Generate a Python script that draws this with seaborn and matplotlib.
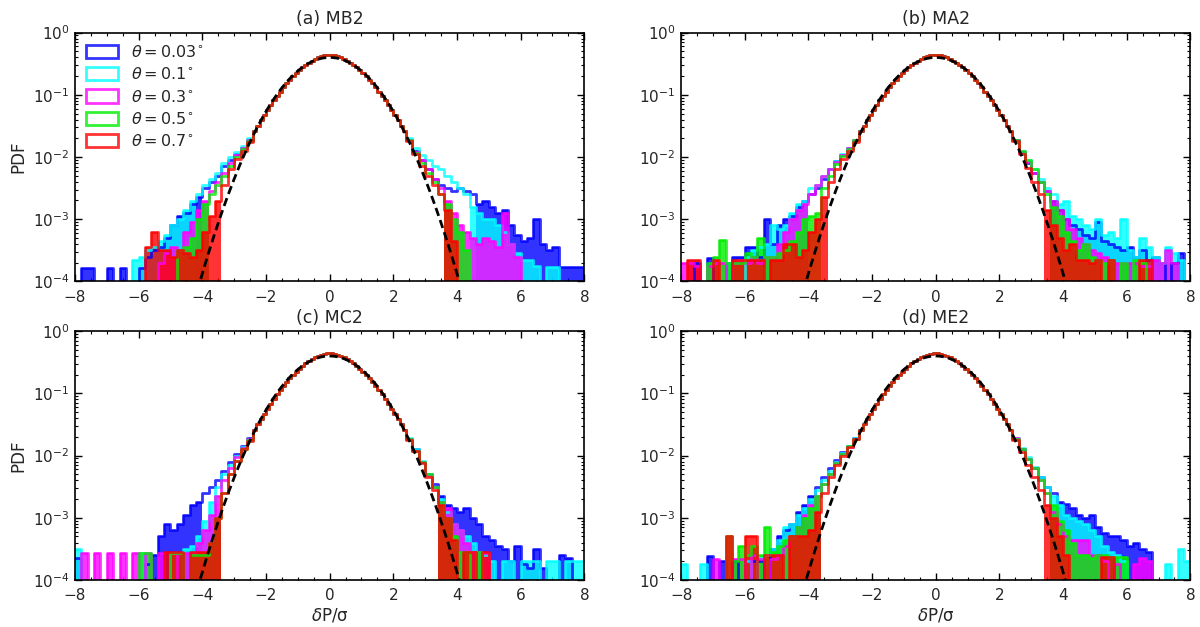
import numpy as np
import pandas as pd
import matplotlib
matplotlib.use('Agg')
import matplotlib.pyplot as plt
import seaborn as sns
from matplotlib.patches import Patch
from matplotlib.ticker import MultipleLocator, LogLocator, NullFormatter

N = None

# tails: bins of width 0.2, stored as log10(PDF), None = empty bin
# left tail: centres -7.9 ... -2.5 ; right tail: centres 2.5 ... 7.9
# shared core: bins of width 0.1, centres -2.35 ... 2.35 (PDF values)
core = [0.026, 0.032, 0.039, 0.047, 0.057, 0.068, 0.081, 0.096, 0.113, 0.132, 0.152, 0.175,
        0.199, 0.224, 0.25, 0.278, 0.305, 0.33, 0.355, 0.38, 0.40, 0.42, 0.435, 0.44,
        0.44, 0.435, 0.42, 0.40, 0.38, 0.355, 0.33, 0.305, 0.278, 0.25, 0.224, 0.199,
        0.175, 0.152, 0.132, 0.113, 0.096, 0.081, 0.068, 0.057, 0.047, 0.039, 0.032, 0.026]

thetas = ['0.03', '0.1', '0.3', '0.5', '0.7']
colores = ['#0000ff', '#00ffff', '#ff00ff', '#00ee00', '#ff0000']
titulos = ['(a) MB2', '(b) MA2', '(c) MC2', '(d) ME2']

# (a) MB2
a_L_blue = [N, -3.78, -3.78, N, N, -3.78, N, -3.78, N, N, -3.78, -3.6, -3.5, -3.45, -3.3, -3.1, -2.95, -2.9, -2.75, -2.65, -2.5, -2.4, -2.3, -2.15, -2.05, -1.95, -1.85, -1.72]
a_L_cyan = [N, N, N, N, N, N, N, N, N, -3.65, -3.6, -3.5, -3.45, -3.35, -3.25, -3.1, -3.0, -2.85, -2.7, -2.6, -2.45, -2.35, -2.25, -2.1, -2.0, -1.92, -1.82, -1.7]
a_L_mag = [N, N, N, N, N, N, N, N, N, N, N, N, N, -3.7, -3.55, -3.45, -3.5, -3.2, -3.05, -2.85, -2.7, -2.55, -2.4, -2.25, -2.1, -1.97, -1.85, -1.73]
a_L_green = [N, N, N, N, N, N, N, N, N, N, N, N, N, N, N, N, -3.5, -3.45, -3.3, -3.0, -2.75, -2.6, -2.45, -2.3, -2.15, -2.0, -1.87, -1.74]
a_L_red = [N, N, N, N, N, N, N, N, N, N, N, -3.45, -3.2, -3.5, -3.5, -3.6, -3.5, -3.55, -3.6, -3.5, -3.2, -2.95, -2.7, -2.45, -2.2, -2.03, -1.9, -1.76]
a_R_blue = [-1.73, -1.9, -2.05, -2.2, -2.35, -2.45, -2.5, -2.55, -2.5, -2.55, -2.6, -2.75, -2.7, -2.8, -2.9, -2.85, -3.1, -3.25, -3.35, -3.3, -3.0, -3.4, -3.5, -3.45, -3.77, -3.77, -3.77, -3.77]
a_R_cyan = [-1.7, -1.86, -1.97, -2.05, -2.15, -2.2, -2.3, -2.4, -2.5, -2.6, -2.8, -2.9, -3.0, -3.0, -3.1, -3.2, -3.4, -3.55, -3.65, -3.65, -3.75, N, -3.77, -3.77, N, N, N, N]
a_R_mag = [-1.72, -1.92, -2.05, -2.2, -2.35, -2.5, -2.7, -2.9, -3.1, -3.2, -3.3, -3.4, -3.3, -3.35, -3.45, -2.9, -3.4, -3.6, N, N, N, N, N, N, N, N, N, N]
a_R_green = [-1.73, -1.93, -2.1, -2.25, -2.4, -2.6, -2.75, -3.0, -3.2, -3.5, N, N, N, N, N, N, N, N, N, N, N, N, N, N, N, N, N, N]
a_R_red = [-1.75, -1.95, -2.15, -2.3, -2.45, -2.6, -2.85, -3.35, N, N, N, N, N, N, N, N, N, N, N, N, N, N, N, N, N, N, N, N]

# (b) MA2
b_L_blue = [N, N, -3.7, N, -3.63, N, N, -3.7, -3.6, -3.6, -3.45, -3.45, -3.6, -3.0, -3.4, -3.1, -3.0, -2.95, -2.8, -2.7, -2.6, -2.5, -2.35, -2.2, -2.07, -1.96, -1.85, -1.72]
b_L_cyan = [N, N, N, N, N, N, N, -3.7, N, N, -3.6, -3.5, -3.45, -3.4, -3.1, -3.15, -3.1, -2.9, -2.75, -2.7, -2.5, -2.45, -2.3, -2.2, -2.07, -1.95, -1.85, -1.72]
b_L_mag = [-3.7, -3.7, -3.75, N, -3.75, -3.7, -3.7, N, -3.7, -3.65, -3.7, -3.6, -3.7, -3.6, -3.6, -3.4, -3.2, -3.0, -2.85, -2.75, -2.6, -2.45, -2.3, -2.2, -2.08, -1.96, -1.85, -1.72]
b_L_green = [N, N, N, N, -3.7, -3.6, -3.33, -3.7, -3.7, -3.7, -3.55, -3.6, -3.3, -3.6, -3.6, -3.55, -3.5, -3.35, -3.2, -3.0, -2.95, -2.9, -2.5, -2.3, -2.12, -1.99, -1.87, -1.73]
b_L_red = [N, -3.65, -3.65, N, N, -3.65, N, N, -3.65, -3.65, -3.65, -3.65, -3.65, N, -3.65, -3.65, -3.4, -3.4, -3.6, -3.5, -3.2, -3.0, -2.65, -2.4, -2.2, -2.03, -1.9, -1.76]
b_R_blue = [-1.73, -1.92, -2.1, -2.25, -2.4, -2.55, -2.7, -2.85, -3.0, -3.1, -3.15, -3.25, -3.3, -3.05, -3.35, -3.4, -3.45, -3.5, -3.45, -3.6, -3.5, -3.65, -3.6, -3.7, N, -3.7, -3.55, N]
b_R_cyan = [-1.72, -1.9, -2.05, -2.2, -2.35, -2.5, -2.6, -2.75, -2.7, -2.95, -3.0, -3.1, -3.15, -3.0, -3.25, -3.2, -3.3, -3.0, -3.5, -3.6, -3.3, -3.45, -3.6, -3.7, -3.45, -3.55, -3.65, N]
b_R_mag = [-1.73, -1.92, -2.08, -2.25, -2.4, -2.55, -2.7, -2.85, -3.0, -3.15, -3.3, -3.4, -3.5, -3.55, -3.6, -3.65, -3.7, -3.7, -3.7, -3.7, -3.75, -3.75, -3.65, -3.7, -3.5, -3.7, N, N]
b_R_green = [-1.72, -1.9, -2.05, -2.2, -2.4, -2.6, -2.8, -2.95, -3.2, -3.35, -3.5, -3.4, -3.6, -3.65, -3.7, -3.65, N, -3.7, N, -3.65, -3.7, N, N, N, N, N, N, N]
b_R_red = [-1.75, -1.95, -2.17, -2.4, -2.6, -2.85, -3.1, -3.3, -3.5, -3.4, -3.65, -3.65, -3.7, -3.65, N, -3.65, N, N, N, N, -3.65, -3.65, N, N, N, N, N, N]

# (c) MC2
c_L_blue = [-3.65, N, N, N, N, N, N, N, N, N, N, -3.75, -3.6, -3.3, -3.1, -3.2, -3.1, -2.95, -2.8, -2.75, -2.6, -2.5, -2.4, -2.25, -2.1, -1.97, -1.85, -1.72]
c_L_cyan = [-3.5, N, N, N, N, N, N, N, N, N, -3.57, N, N, N, N, N, N, -3.5, -3.45, -3.3, -3.05, -2.75, -2.5, -2.3, -2.15, -2.0, -1.87, -1.73]
c_L_mag = [N, -3.57, N, -3.57, N, -3.57, N, -3.57, N, -3.57, N, -3.57, N, -3.57, N, -3.57, N, -3.57, -3.57, -3.4, -3.2, -2.95, -2.65, -2.4, -2.2, -2.03, -1.88, -1.74]
c_L_green = [N, N, N, N, N, N, N, N, N, N, -3.57, -3.57, N, N, N, -3.57, -3.57, N, -3.6, -3.6, -3.6, -3.4, -3.0, -2.6, -2.3, -2.08, -1.9, -1.75]
c_L_red = [N, N, N, N, N, N, N, N, N, N, N, N, N, N, -3.55, -3.55, -3.55, N, -3.55, -3.55, -3.55, -3.4, -3.0, -2.6, -2.3, -2.08, -1.9, -1.76]
c_R_blue = [-1.73, -1.9, -2.1, -2.3, -2.45, -2.65, -2.8, -2.85, -2.9, -2.85, -3.0, -3.1, -3.3, -3.35, -3.45, -3.5, -3.7, -3.45, -3.75, -3.8, -3.5, -3.8, N, N, -3.6, -3.65, N, N]
c_R_cyan = [-1.72, -1.9, -2.08, -2.3, -2.5, -2.7, -2.9, -3.1, -3.2, -3.3, -3.4, -3.55, -3.6, -3.7, N, -3.7, -3.7, N, -3.7, -3.7, -3.7, N, -3.7, -3.7, N, -3.7, -3.7, -3.7]
c_R_mag = [-1.73, -1.92, -2.1, -2.32, -2.5, -2.75, -2.85, -3.1, -3.2, -3.4, -3.55, -3.55, -3.57, N, N, N, N, N, N, N, N, N, N, N, N, N, N, N]
c_R_green = [-1.73, -1.92, -2.1, -2.3, -2.5, -2.75, -3.0, -3.3, -3.55, -3.55, N, -3.55, N, N, N, N, N, N, N, N, N, N, N, N, N, N, N, N]
c_R_red = [-1.75, -1.93, -2.12, -2.35, -2.55, -2.8, -3.0, -3.35, N, -3.55, -3.55, N, -3.55, N, N, N, N, N, N, N, N, N, N, N, N, N, N, N]

# (d) ME2
d_L_blue = [N, N, N, N, -3.62, N, -3.7, N, -3.7, N, -3.7, -3.7, -3.7, N, -3.5, -3.3, -3.2, -3.1, -2.9, -2.8, -2.65, -2.5, -2.35, -2.2, -2.07, -1.95, -1.84, -1.72]
d_L_cyan = [-3.74, N, N, -3.74, N, N, N, N, N, N, -3.7, N, -3.65, -3.6, -3.5, -3.35, -3.15, -3.1, -2.95, -2.85, -2.7, -2.55, -2.4, -2.25, -2.1, -1.96, -1.84, -1.72]
d_L_mag = [N, N, N, N, N, -3.66, N, N, -3.66, -3.66, N, -3.6, -3.66, N, -3.66, -3.6, -3.45, -3.3, -3.15, -2.95, -2.8, -2.65, -2.45, -2.3, -2.12, -1.98, -1.86, -1.73]
d_L_green = [N, N, N, N, N, N, N, -3.3, -3.7, -3.45, -3.6, -3.45, -3.6, -3.15, -3.55, -3.45, -3.35, -3.3, -3.15, -3.0, -2.85, -2.65, -2.45, -2.3, -2.12, -1.98, -1.85, -1.73]
d_L_red = [N, N, N, N, N, N, N, -3.3, N, N, -3.3, -3.3, N, -3.6, -3.6, -3.6, N, -3.3, -3.3, -3.3, -3.2, -2.9, -2.6, -2.35, -2.15, -2.0, -1.87, -1.74]
d_R_blue = [-1.73, -1.9, -2.05, -2.2, -2.35, -2.5, -2.6, -2.75, -2.78, -2.85, -2.95, -3.0, -2.95, -3.15, -3.25, -3.3, -3.3, -3.35, -3.45, -3.4, -3.5, -3.55, N, N, N, N, N, N]
d_R_cyan = [-1.72, -1.88, -2.02, -2.18, -2.35, -2.5, -2.65, -2.8, -2.95, -3.0, -3.05, -3.1, -3.2, -3.3, -3.45, -3.55, -3.6, -3.7, N, N, N, N, N, N, -3.75, N, -3.5, -3.7]
d_R_mag = [-1.72, -1.9, -2.05, -2.2, -2.4, -2.6, -2.9, -3.1, -3.3, -3.35, -3.35, -3.35, -3.6, -3.6, -3.7, N, -3.75, N, N, -3.75, -3.65, -3.7, N, N, N, N, N, N]
d_R_green = [-1.73, -1.9, -2.05, -2.2, -2.4, -2.6, -2.8, -3.05, -3.2, -3.4, -3.6, -3.6, -3.65, -3.6, -3.6, -3.63, -3.63, -3.63, N, N, N, N, N, N, N, N, N, N]
d_R_red = [-1.75, -1.95, -2.15, -2.35, -2.55, -2.8, -3.0, -3.3, -3.6, N, N, N, N, N, -3.63, -3.63, N, N, N, N, N, N, N, N, N, N, N, N]

izq = [[a_L_blue, a_L_cyan, a_L_mag, a_L_green, a_L_red],
       [b_L_blue, b_L_cyan, b_L_mag, b_L_green, b_L_red],
       [c_L_blue, c_L_cyan, c_L_mag, c_L_green, c_L_red],
       [d_L_blue, d_L_cyan, d_L_mag, d_L_green, d_L_red]]
der = [[a_R_blue, a_R_cyan, a_R_mag, a_R_green, a_R_red],
       [b_R_blue, b_R_cyan, b_R_mag, b_R_green, b_R_red],
       [c_R_blue, c_R_cyan, c_R_mag, c_R_green, c_R_red],
       [d_R_blue, d_R_cyan, d_R_mag, d_R_green, d_R_red]]

#%%
# bin edges: 0.2 wide in the tails, 0.1 wide in the core
edges = ([round(-8 + 0.2 * i, 2) for i in range(28)]
         + [round(-2.4 + 0.1 * i, 2) for i in range(48)]
         + [round(2.4 + 0.2 * i, 2) for i in range(29)])
centros = [round((edges[i] + edges[i + 1]) / 2, 3) for i in range(len(edges) - 1)]
umbral = 10 ** -2.6   # below this the noisy tail bins look filled


def a_pdf(vals):
    return [0.0 if v is None else 10.0 ** v for v in vals]


sns.set_theme(style='ticks')
plt.rcParams['font.family'] = ['DejaVu Sans']
plt.rcParams['mathtext.fontset'] = 'dejavusans'

fig, axes = plt.subplots(2, 2, figsize=(12, 6.27), dpi=100)
fig.subplots_adjust(left=0.0625, right=0.992, top=0.948, bottom=0.075,
                    wspace=0.19, hspace=0.2)

xs = np.linspace(-8, 8, 801)
gauss = np.exp(-xs ** 2 / 2) / np.sqrt(2 * np.pi)

for k, ax in enumerate(axes.flat):
    for j in range(5):
        pdf = a_pdf(izq[k][j]) + core + a_pdf(der[k][j])
        df = pd.DataFrame({'x': centros, 'pdf': pdf})
        df['relleno'] = df['pdf'].where((df['pdf'] > 0) & (df['pdf'] < umbral), 0.0)
        sns.histplot(data=df, x='x', weights='relleno', bins=edges, element='bars',
                     fill=True, color=colores[j], alpha=0.8, linewidth=0, ax=ax)
        sns.histplot(data=df, x='x', weights='pdf', bins=edges, element='step',
                     fill=False, color=colores[j], alpha=0.8, linewidth=2, ax=ax)
    ax.plot(xs, gauss, color='black', linestyle='--', linewidth=2,
            dashes=(3, 1.6), zorder=10)

    ax.set_yscale('log')
    ax.set_xlim(-8, 8)
    ax.set_ylim(1e-4, 1)
    ax.xaxis.set_major_locator(MultipleLocator(2))
    ax.xaxis.set_minor_locator(MultipleLocator(0.5))
    ax.yaxis.set_major_locator(LogLocator(base=10, numticks=10))
    ax.yaxis.set_minor_locator(LogLocator(base=10, subs=np.arange(2, 10), numticks=10))
    ax.yaxis.set_minor_formatter(NullFormatter())
    ax.tick_params(which='both', direction='in', top=True, right=True,
                   labelsize=11, color='black')
    ax.tick_params(which='major', length=5, width=1)
    ax.tick_params(which='minor', length=2.5, width=0.8)
    ax.tick_params(axis='x', which='major', pad=6)
    ax.tick_params(axis='y', which='major', pad=4)
    for s in ax.spines.values():
        s.set_linewidth(1.2)
        s.set_color('black')
    ax.set_title(titulos[k], fontsize=12.5, pad=6)
    ax.set_ylabel('PDF' if k % 2 == 0 else '', fontsize=12)
    ax.set_xlabel(r'$\delta$P/σ' if k >= 2 else '', fontsize=12, labelpad=2)

manejadores = [Patch(facecolor='none', edgecolor=c, linewidth=2, alpha=0.8) for c in colores]
etiquetas = [r'$\theta=' + t + r'^{\circ}$' for t in thetas]
axes[0, 0].legend(manejadores, etiquetas, loc='upper left', frameon=False,
                  fontsize=11.5, handlelength=2.0, handleheight=0.9,
                  labelspacing=0.4, borderaxespad=0.3, handletextpad=0.8)

fig.savefig('out.png', dpi=100)
